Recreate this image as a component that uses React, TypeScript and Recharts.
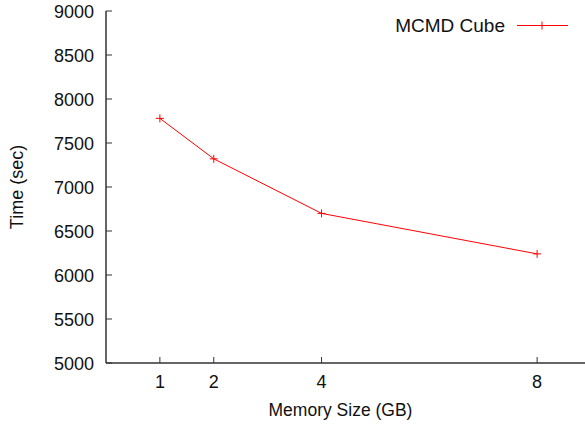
import { LineChart, Line, XAxis, YAxis } from 'recharts';

// memory size (GB) vs run time
const MEMORY_GB = [1, 2, 4, 8];
const TIME_SEC = [7780, 7320, 6700, 6240];
const X_TICKS = [1, 2, 4, 8];
const Y_TICKS = [5000, 5500, 6000, 6500, 7000, 7500, 8000, 8500, 9000];
const SERIES_NAME = 'MCMD Cube';

const data = MEMORY_GB.map((m, i) => ({ mem: m, time: TIME_SEC[i] }));

const FONT = '"Liberation Sans", Arial, Helvetica, sans-serif';
const AXIS = '#333';
const RED = '#ff0000';
const TICK_LEN = 6;

const BottomTick = (props: any) => {
  const { x, y, payload } = props;
  return (
    <g>
      <line x1={x} y1={y} x2={x} y2={y - TICK_LEN} stroke={AXIS} strokeWidth={1} />
      <text x={x} y={y + 25} textAnchor="middle" fontSize={18} fontFamily={FONT} fill="#111">
        {payload.value}
      </text>
    </g>
  );
};

const TopTick = (props: any) => {
  const { x, y } = props;
  return <line x1={x} y1={y} x2={x} y2={y + TICK_LEN} stroke={AXIS} strokeWidth={1} />;
};

const LeftTick = (props: any) => {
  const { x, y, payload } = props;
  return (
    <g>
      <line x1={x} y1={y} x2={x + TICK_LEN} y2={y} stroke={AXIS} strokeWidth={1} />
      <text x={x - 12} y={y + 6.5} textAnchor="end" fontSize={18} fontFamily={FONT} fill="#111">
        {payload.value}
      </text>
    </g>
  );
};

const PlusDot = (props: any) => {
  const { cx, cy, index } = props;
  if (cx == null || cy == null) return null;
  return (
    <g key={`dot-${index}`}>
      <line x1={cx - 4} y1={cy} x2={cx + 4} y2={cy} stroke={RED} strokeWidth={1} />
      <line x1={cx} y1={cy - 4} x2={cx} y2={cy + 4} stroke={RED} strokeWidth={1} />
    </g>
  );
};

const KeyBox = () => (
  <g>
    <text x={505} y={32} textAnchor="end" fontSize={19} fontFamily={FONT} fill="#111">
      {SERIES_NAME}
    </text>
    <line x1={517} y1={25.5} x2={568} y2={25.5} stroke={RED} strokeWidth={1} />
    <line x1={538} y1={25.5} x2={546} y2={25.5} stroke={RED} strokeWidth={1} />
    <line x1={542} y1={21.5} x2={542} y2={29.5} stroke={RED} strokeWidth={1} />
  </g>
);

export default function App() {
  return (
    <div style={{ position: 'fixed', left: 0, top: 0, width: 585, height: 425, overflow: 'hidden', background: '#fff' }}>
      <LineChart width={600} height={425} data={data} margin={{ top: 11, right: 9, bottom: 0, left: 0 }}>
        <XAxis
          dataKey="mem"
          type="number"
          domain={[0, 9]}
          ticks={X_TICKS}
          height={62}
          tickSize={0}
          tickMargin={0}
          tick={BottomTick}
          axisLine={{ stroke: AXIS, strokeWidth: 1.5 }}
          label={{
            content: () => (
              <text x={340.5} y={416} textAnchor="middle" fontSize={17.5} fontFamily={FONT} fill="#111">
                Memory Size (GB)
              </text>
            ),
          }}
        />
        <XAxis
          xAxisId="top"
          dataKey="mem"
          type="number"
          orientation="top"
          domain={[0, 9]}
          ticks={X_TICKS}
          height={0}
          tickSize={0}
          tickMargin={0}
          tick={TopTick}
          axisLine={{ stroke: AXIS, strokeWidth: 1.5 }}
        />
        <YAxis
          type="number"
          domain={[5000, 9000]}
          ticks={Y_TICKS}
          width={106}
          tickSize={0}
          tickMargin={0}
          tick={LeftTick}
          axisLine={{ stroke: AXIS, strokeWidth: 1.5 }}
          label={{
            content: () => (
              <text
                x={0}
                y={0}
                transform="translate(23 187) rotate(-90)"
                textAnchor="middle"
                fontSize={18}
                fontFamily={FONT}
                fill="#111"
              >
                Time (sec)
              </text>
            ),
          }}
        />
        <Line
          type="linear"
          dataKey="time"
          name={SERIES_NAME}
          stroke={RED}
          strokeWidth={1}
          dot={PlusDot}
          activeDot={false}
          isAnimationActive={false}
        />
        <KeyBox />
      </LineChart>
    </div>
  );
}
